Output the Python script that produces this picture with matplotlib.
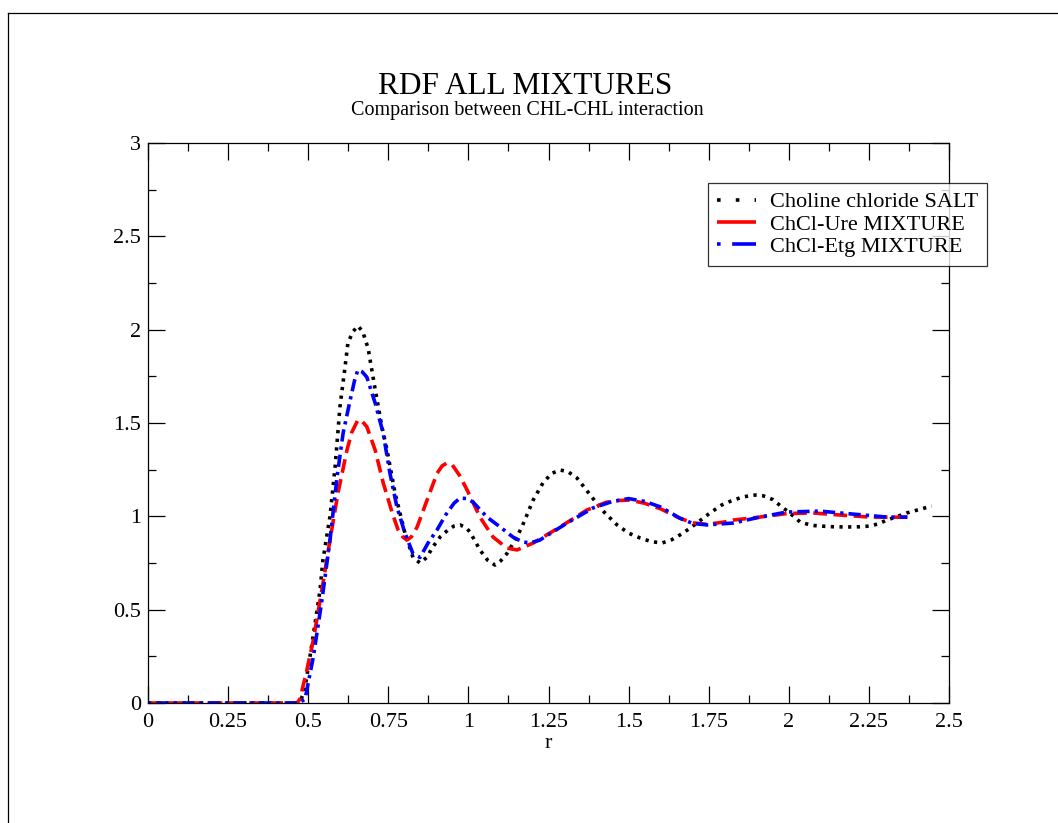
import matplotlib
matplotlib.use("Agg")
import matplotlib.pyplot as plt
from matplotlib.lines import Line2D
from matplotlib.ticker import MultipleLocator, FormatStrFormatter
import numpy as np

plt.rcParams['font.family'] = ['Liberation Serif', 'DejaVu Serif']

# g(r) for the CHL-CHL pair, one curve per system
r_salt = [0.0, 0.47, 0.474, 0.49, 0.512, 0.537, 0.546, 0.568, 0.584, 0.599, 0.615, 0.624,
          0.64, 0.655, 0.67, 0.687, 0.709, 0.73, 0.746, 0.771, 0.802, 0.827, 0.849, 0.87,
          0.889, 0.912, 0.935, 0.955, 0.974, 0.992, 1.005, 1.036, 1.06, 1.083, 1.1, 1.12,
          1.145, 1.167, 1.202, 1.233, 1.26, 1.286, 1.31, 1.339, 1.364, 1.389, 1.425, 1.464,
          1.5, 1.536, 1.57, 1.604, 1.635, 1.67, 1.71, 1.754, 1.79, 1.826, 1.86, 1.894, 1.92,
          1.95, 1.975, 2.003, 2.035, 2.07, 2.097, 2.14, 2.181, 2.22, 2.253, 2.28, 2.306, 2.34,
          2.368, 2.41, 2.446]
g_salt = [0.0, 0.0, 0.0, 0.08, 0.32, 0.605, 0.766, 1.0, 1.265, 1.586, 1.8, 1.93,
          1.99, 2.02, 1.99, 1.9, 1.68, 1.48, 1.355, 1.125, 0.91, 0.78, 0.75, 0.78,
          0.836, 0.89, 0.925, 0.948, 0.954, 0.94, 0.916, 0.82, 0.765, 0.739, 0.76, 0.8,
          0.87, 0.943, 1.087, 1.18, 1.23, 1.248, 1.24, 1.205, 1.15, 1.095, 1.02, 0.954,
          0.91, 0.884, 0.865, 0.857, 0.875, 0.91, 0.96, 1.018, 1.06, 1.087, 1.105, 1.114, 1.11,
          1.09, 1.055, 1.018, 0.97, 0.952, 0.948, 0.944, 0.943, 0.944, 0.948, 0.96, 0.98, 1.0,
          1.018, 1.038, 1.055]

r_ure = [0.0, 0.465, 0.474, 0.495, 0.516, 0.546, 0.568, 0.593, 0.621, 0.636, 0.655, 0.668,
         0.683, 0.709, 0.734, 0.762, 0.78, 0.795, 0.808, 0.822, 0.84, 0.871, 0.902, 0.918,
         0.933, 0.95, 0.972, 0.996, 1.036, 1.077, 1.12, 1.152, 1.202, 1.286, 1.37, 1.43,
         1.47, 1.504, 1.55, 1.6, 1.66, 1.7, 1.745, 1.8, 1.826, 1.91, 1.994, 2.076, 2.16,
         2.253, 2.37]
g_ure = [0.0, 0.0, 0.02, 0.17, 0.337, 0.64, 0.873, 1.125, 1.355, 1.45, 1.516, 1.51,
         1.48, 1.355, 1.18, 1.02, 0.93, 0.89, 0.873, 0.89, 0.943, 1.087, 1.23, 1.27,
         1.286, 1.275, 1.22, 1.141, 0.996, 0.889, 0.83, 0.82, 0.857, 0.943, 1.034, 1.075,
         1.085, 1.087, 1.07, 1.04, 0.99, 0.965, 0.957, 0.97, 0.98, 0.996, 1.015, 1.018, 1.007,
         0.996, 0.995]

r_etg = [0.0, 0.47, 0.49, 0.516, 0.543, 0.568, 0.59, 0.609, 0.631, 0.645, 0.655, 0.668,
         0.683, 0.709, 0.734, 0.755, 0.777, 0.802, 0.827, 0.849, 0.874, 0.902, 0.93, 0.955,
         0.974, 0.995, 1.014, 1.058, 1.099, 1.139, 1.17, 1.195, 1.223, 1.308, 1.389, 1.45,
         1.5, 1.55, 1.6, 1.66, 1.7, 1.745, 1.826, 1.91, 1.994, 2.097, 2.2, 2.306, 2.37]
g_etg = [0.0, 0.0, 0.02, 0.247, 0.552, 0.873, 1.21, 1.446, 1.623, 1.73, 1.784, 1.775,
         1.746, 1.607, 1.446, 1.232, 1.05, 0.91, 0.8, 0.78, 0.857, 0.927, 1.01, 1.07,
         1.098, 1.095, 1.077, 0.996, 0.943, 0.889, 0.862, 0.858, 0.873, 0.964, 1.045, 1.08,
         1.095, 1.08, 1.05, 0.99, 0.962, 0.954, 0.964, 0.996, 1.023, 1.028, 1.012, 0.996, 0.996]

labels = ["Choline chloride SALT", "ChCl-Ure MIXTURE", "ChCl-Etg MIXTURE"]
colors = ["#000000", "#ff0000", "#0000ff"]

fig = plt.figure(figsize=(10.58, 8.23), dpi=100)
ax = fig.add_axes([148 / 1058, 120 / 823, 801 / 1058, 560 / 823])

lw = 2.6
ax.plot(r_salt, g_salt, color=colors[0], lw=lw, dashes=(0.9, 1.5), dash_capstyle='butt')
ax.plot(r_ure, g_ure, color=colors[1], lw=lw, dashes=(3.8, 1.8), dash_capstyle='butt')
ax.plot(r_etg, g_etg, color=colors[2], lw=lw, dashes=(0.9, 1.4, 3.4, 1.4), dash_capstyle='butt')

ax.set_xlim(0, 2.5)
ax.set_ylim(0, 3)
ax.xaxis.set_major_locator(MultipleLocator(0.25))
ax.xaxis.set_minor_locator(MultipleLocator(0.125))
ax.yaxis.set_major_locator(MultipleLocator(0.5))
ax.yaxis.set_minor_locator(MultipleLocator(0.25))
ax.xaxis.set_major_formatter(FormatStrFormatter('%g'))
ax.yaxis.set_major_formatter(FormatStrFormatter('%g'))
ax.tick_params(which='both', direction='in', top=True, right=True, width=0.9, labelsize=16)
ax.tick_params(which='major', length=12)
ax.tick_params(which='minor', length=6)
ax.tick_params(axis='x', pad=7)
ax.tick_params(axis='y', pad=5)
for sp in ax.spines.values():
    sp.set_linewidth(0.9)

ax.set_xlabel("r", fontsize=16, labelpad=2)

fig.text(525 / 1058, 1 - 94 / 823, "RDF ALL MIXTURES", fontsize=22.5, ha='center', va='baseline')
fig.text(527 / 1058, 1 - 115 / 823, "Comparison between CHL-CHL interaction", fontsize=14.5,
         ha='center', va='baseline')

# legend keys drawn with their own, longer patterns
handles = [
    Line2D([], [], color=colors[0], lw=lw, dashes=(1, 4.2), dash_capstyle='butt'),
    Line2D([], [], color=colors[1], lw=lw, dashes=(20, 4), dash_capstyle='butt'),
    Line2D([], [], color=colors[2], lw=lw, dashes=(1, 3.2, 12, 4), dash_capstyle='butt'),
]
leg = ax.legend(handles, labels, loc='upper left', bbox_to_anchor=(708 / 1058, 1 - 183 / 823),
                bbox_transform=fig.transFigure, fontsize=16, frameon=True, fancybox=False,
                handlelength=1.75, handletextpad=0.65, labelspacing=0.08, borderpad=0.4,
                borderaxespad=0)
leg.get_frame().set_edgecolor('black')
leg.get_frame().set_linewidth(0.9)

# outer frame, cut off at right and bottom
fig.add_artist(Line2D([8 / 1058, 8 / 1058], [0, 1 - 13 / 823], color='black', lw=0.9,
                      transform=fig.transFigure))
fig.add_artist(Line2D([8 / 1058, 1], [1 - 13 / 823, 1 - 13 / 823], color='black', lw=0.9,
                      transform=fig.transFigure))

fig.savefig("out.png", dpi=100)
